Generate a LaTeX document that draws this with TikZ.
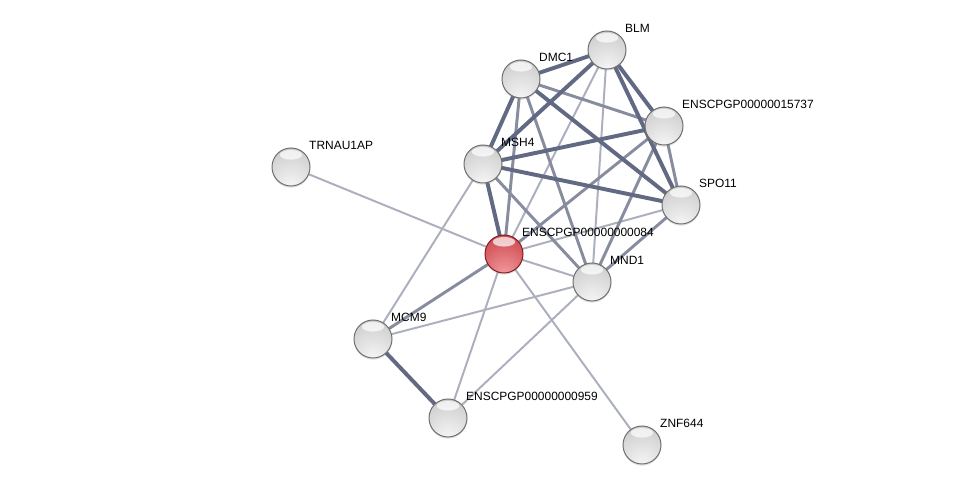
\documentclass[tikz,border=0pt]{standalone}
\usepackage{fontspec}
\setmainfont{Liberation Sans}
\usepackage{xcolor}
\usepackage{tikz}
\usetikzlibrary{backgrounds, shadows}
\definecolor{edgeColor}{RGB}{70, 78, 108}
\definecolor{rimColor}{RGB}{110, 110, 110}
\definecolor{queryRim}{RGB}{130, 28, 34}
\definecolor{redA}{RGB}{245, 160, 165}
\definecolor{redB}{RGB}{215, 95, 100}
\definecolor{redC}{RGB}{185, 55, 62}
\definecolor{redD}{RGB}{150, 35, 40}
\pgfdeclareradialshading{sphere}{\pgfpoint{0bp}{-30bp}}{color(0bp)=(gray!5); color(30bp)=(gray!30); color(55bp)=(gray!55); color(80bp)=(gray!72)}
\pgfdeclareradialshading{redsphere}{\pgfpoint{0bp}{-30bp}}{color(0bp)=(redA); color(30bp)=(redB); color(55bp)=(redC); color(80bp)=(redD)}

\begin{document}
\begin{tikzpicture}[x=0.025cm, y=-0.025cm,
    protein/.style={circle, draw=rimColor, line width=0.7pt, shading=sphere, minimum size=0.95cm, inner sep=0pt, outer sep=0pt,
        drop shadow={shadow xshift=0pt, shadow yshift=-1.2pt, opacity=0.25},
        path picture={\fill[white, opacity=0.7] ([yshift=-0.17cm]path picture bounding box.north) ellipse (0.28cm and 0.12cm);},
        label distance=5pt},
    query/.style={protein, draw=queryRim, shading=redsphere},
    lbl/.style={font=\fontsize{8.5}{9}\selectfont, inner sep=1pt, text=black, xshift=2.2pt, yshift=1.4pt},
    strong/.style={draw=edgeColor!85, line width=2.8pt},
    medium/.style={draw=edgeColor!65, line width=2.1pt},
    weak/.style={draw=edgeColor!45, line width=1.4pt}]

    \useasboundingbox (0,0) rectangle (976,490);

    % proteins
    \node (blm) [protein, label={[lbl]above right:BLM}] at (607,50) {};
    \node (dmc1) [protein, label={[lbl]above right:DMC1}] at (521,79) {};
    \node (e15737) [protein, label={[lbl]above right:ENSCPGP00000015737}] at (664,126) {};
    \node (trnau1ap) [protein, label={[lbl]above right:TRNAU1AP}] at (291,167) {};
    \node (msh4) [protein, label={[lbl]above right:MSH4}] at (483,164) {};
    \node (spo11) [protein, label={[lbl]above right:SPO11}] at (681,205) {};
    \node (e084) [query, label={[lbl]above right:ENSCPGP00000000084}] at (504,254) {};
    \node (mnd1) [protein, label={[lbl]above right:MND1}] at (592,282) {};
    \node (mcm9) [protein, label={[lbl]above right:MCM9}] at (373,339) {};
    \node (e959) [protein, label={[lbl]above right:ENSCPGP00000000959}] at (448,418) {};
    \node (znf644) [protein, label={[lbl]above right:ZNF644}] at (642,445) {};

    % interactions
    \begin{scope}[on background layer]
        \draw[weak] (blm) -- (e084);
        \draw[weak] (blm) -- (mnd1);
        \draw[weak] (e084) -- (spo11);
        \draw[weak] (e084) -- (mnd1);
        \draw[weak] (trnau1ap) -- (e084);
        \draw[weak] (msh4) -- (mcm9);
        \draw[weak] (mcm9) -- (mnd1);
        \draw[weak] (mnd1) -- (e959);
        \draw[weak] (e084) -- (e959);
        \draw[weak] (e084) -- (znf644);

        \draw[medium] (dmc1) -- (e15737);
        \draw[medium] (dmc1) -- (e084);
        \draw[medium] (dmc1) -- (mnd1);
        \draw[medium] (e15737) -- (spo11);
        \draw[medium] (msh4) -- (mnd1);
        \draw[medium] (e15737) -- (mnd1);
        \draw[medium] (spo11) -- (mnd1);
        \draw[medium] (e084) -- (mcm9);
        \draw[medium] (e15737) -- (e084);

        \draw[strong] (blm) -- (dmc1);
        \draw[strong] (blm) -- (msh4);
        \draw[strong] (blm) -- (e15737);
        \draw[strong] (blm) -- (spo11);
        \draw[strong] (dmc1) -- (msh4);
        \draw[strong] (dmc1) -- (spo11);
        \draw[strong] (msh4) -- (e15737);
        \draw[strong] (msh4) -- (spo11);
        \draw[strong] (msh4) -- (e084);
        \draw[strong] (mcm9) -- (e959);
    \end{scope}

\end{tikzpicture}
\end{document}
